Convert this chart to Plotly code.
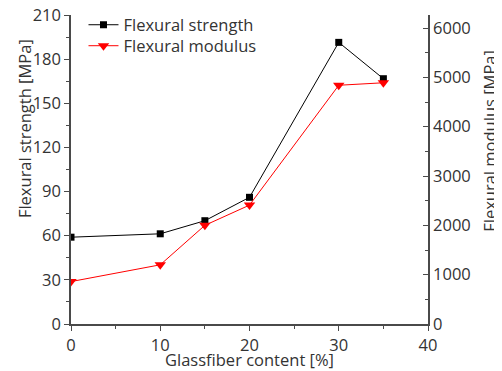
import plotly.graph_objects as go

glassfiber = [0, 10, 15, 20, 30, 35]
strength = [59, 61.3, 70.2, 86.1, 191.4, 166.7]
modulus = [860, 1200, 2000, 2410, 4840, 4890]

x_ticks = [0, 10, 20, 30, 40]
left_ticks = [0, 30, 60, 90, 120, 150, 180, 210]
right_ticks = [0, 1000, 2000, 3000, 4000, 5000, 6000]

x_title = "Glassfiber content [%]"
left_title = "Flexural strength [MPa]"
right_title = "Flexural modulus [MPa]"

FONT = "Open Sans"
AX = "#4a4a4a"
TXT = "#333333"
FS = 16.5

fig = go.Figure()
fig.add_trace(go.Scatter(
    x=glassfiber, y=strength, name="Flexural strength",
    mode="lines+markers", legend="legend",
    line=dict(color="black", width=1),
    marker=dict(symbol="square", size=7, color="black"),
))
fig.add_trace(go.Scatter(
    x=glassfiber, y=modulus, name="Flexural modulus",
    mode="lines+markers", yaxis="y2", legend="legend2",
    line=dict(color="red", width=1),
    marker=dict(symbol="triangle-down", size=10, color="red"),
))

legend_common = dict(xanchor="left", yanchor="middle", bgcolor="rgba(0,0,0,0)",
                     font=dict(size=FS, color=TXT), itemwidth=30)

fig.update_layout(
    width=494, height=363,
    margin=dict(l=63, r=74, t=7, b=47, autoexpand=False),
    paper_bgcolor="white", plot_bgcolor="white",
    font=dict(family=FONT, size=FS, color=TXT),
    showlegend=True,
    legend=dict(x=0.035, y=0.9676, **legend_common),
    legend2=dict(x=0.035, y=0.8997, **legend_common),
    xaxis=dict(
        range=[0, 40], tickvals=x_ticks, showgrid=False, zeroline=False,
        showline=True, linecolor=AX, linewidth=1.5,
        ticks="outside", ticklen=5, tickcolor=AX, tickwidth=1,
        minor=dict(ticks="outside", ticklen=3, dtick=5, tickcolor=AX, showgrid=False),
        title=dict(text=x_title, standoff=0, font=dict(size=FS)),
        tickfont=dict(size=FS), ticklabeloverflow="allow",
    ),
    yaxis=dict(
        range=[0, 210], tickvals=left_ticks, showgrid=False, zeroline=False,
        showline=True, linecolor=AX, linewidth=1.5,
        ticks="outside", ticklen=5, tickcolor=AX, tickwidth=1,
        minor=dict(ticks="outside", ticklen=3, dtick=15, tickcolor=AX, showgrid=False),
        tickfont=dict(size=FS), ticklabeloverflow="allow",
    ),
    yaxis2=dict(
        range=[0, 6264], tickvals=right_ticks, overlaying="y", side="right",
        showgrid=False, zeroline=False,
        showline=True, linecolor=AX, linewidth=1.5,
        ticks="inside", ticklen=5, tickcolor=AX, tickwidth=1,
        minor=dict(ticks="inside", ticklen=3, dtick=500, tickcolor=AX, showgrid=False),
        tickfont=dict(size=FS), ticklabeloverflow="allow",
    ),
    annotations=[
        dict(text=left_title, xref="paper", yref="paper", x=-0.1317, y=0.634,
             xanchor="center", yanchor="middle", textangle=-90, showarrow=False,
             font=dict(size=FS, color=TXT)),
        dict(text=right_title, xref="paper", yref="paper", x=1.17, y=0.592,
             xanchor="center", yanchor="middle", textangle=-90, showarrow=False,
             font=dict(size=FS, color=TXT)),
    ],
)

fig.write_html("out.html")
